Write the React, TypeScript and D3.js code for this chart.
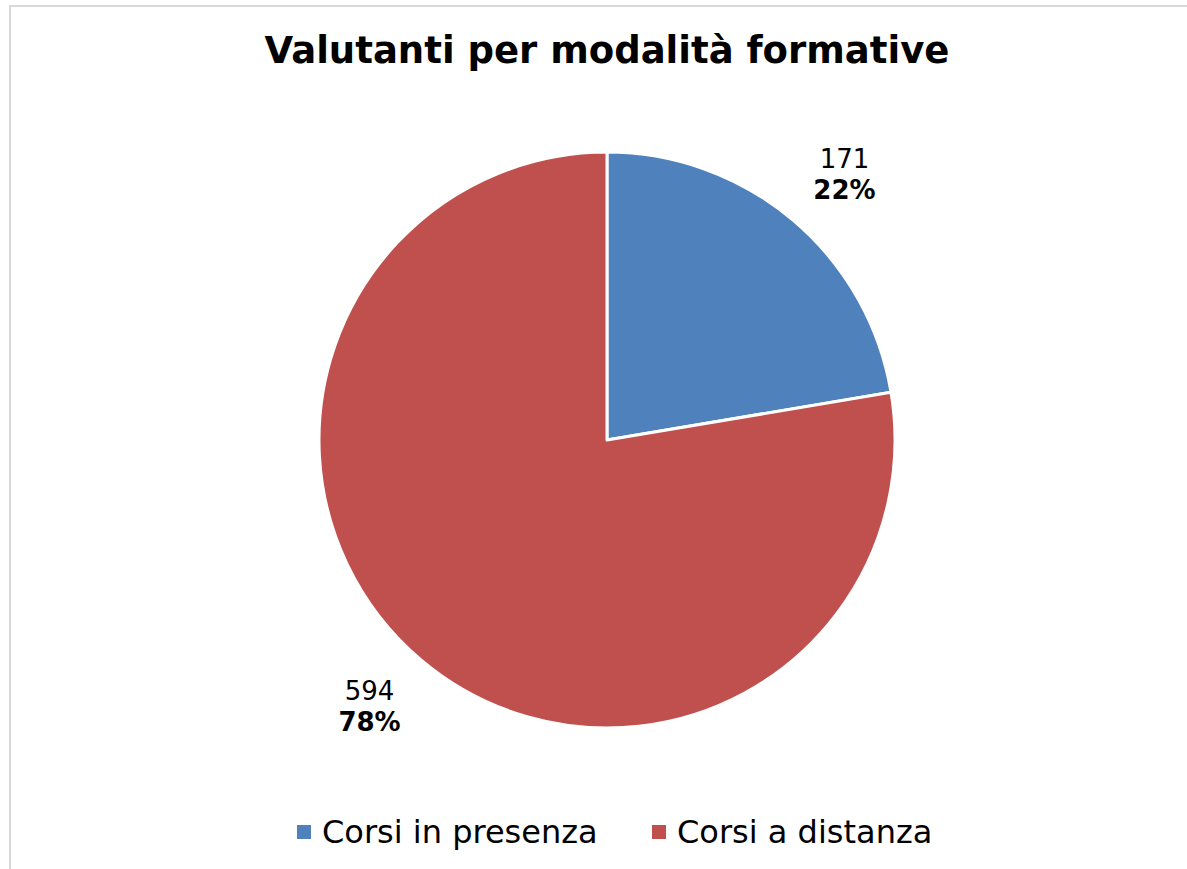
import { useRef, useEffect } from "react";
import * as d3 from "d3";

const title = "Valutanti per modalità formative";
const categories = ["Corsi in presenza", "Corsi a distanza"];
const values = [171, 594];
const colors = ["#4F81BD", "#C0504D"];

const width = 1187;
const height = 869;
const font = "DejaVu Sans, Verdana, sans-serif";

type Slice = { label: string; value: number; color: string };

export default function App() {
  const ref = useRef<SVGSVGElement>(null);

  useEffect(() => {
    if (!ref.current) return;
    const svg = d3.select(ref.current);
    svg.selectAll("*").remove();

    const data: Slice[] = categories.map((c, i) => ({
      label: c,
      value: values[i],
      color: colors[i],
    }));
    const total = d3.sum(values);

    // Chart frame
    svg
      .append("rect")
      .attr("x", 10)
      .attr("y", 6)
      .attr("width", width + 20)
      .attr("height", height + 20)
      .attr("fill", "#fff")
      .attr("stroke", "#d9d9d9")
      .attr("stroke-width", 2);

    // Title
    svg
      .append("text")
      .attr("x", 607)
      .attr("y", 63)
      .attr("text-anchor", "middle")
      .attr("font-family", font)
      .attr("font-weight", "bold")
      .attr("font-size", 37)
      .text(title);

    const cx = 607;
    const cy = 440;
    const radius = 288;

    const pie = d3
      .pie<Slice>()
      .value((d) => d.value)
      .sort(null);
    const arcs = pie(data);

    const arc = d3.arc<d3.PieArcDatum<Slice>>().innerRadius(0).outerRadius(radius);
    // anchor point just outside the slice; the label box hangs off it
    const anchorArc = d3
      .arc<d3.PieArcDatum<Slice>>()
      .innerRadius(315)
      .outerRadius(315);
    const boxW = 34;
    const boxH = 26;

    const g = svg.append("g").attr("transform", `translate(${cx}, ${cy})`);

    g.selectAll("path")
      .data(arcs)
      .join("path")
      .attr("d", arc)
      .attr("fill", (d) => d.data.color)
      .attr("stroke", "#fff")
      .attr("stroke-width", 3)
      .attr("stroke-linejoin", "round");

    // Data labels: value + percentage
    const labels = g
      .selectAll("g.label")
      .data(arcs)
      .join("g")
      .attr("class", "label")
      .attr("transform", (d) => {
        const [x, y] = anchorArc.centroid(d);
        const lx = x + Math.sign(x) * boxW;
        const ly = y + Math.sign(y) * boxH;
        return `translate(${lx}, ${ly})`;
      });

    labels
      .append("text")
      .attr("y", -6)
      .attr("text-anchor", "middle")
      .attr("font-family", font)
      .attr("font-size", 26)
      .text((d) => d.data.value);

    labels
      .append("text")
      .attr("y", 25)
      .attr("text-anchor", "middle")
      .attr("font-family", font)
      .attr("font-weight", "bold")
      .attr("font-size", 26)
      .text((d) => `${Math.round((d.data.value / total) * 100)}%`);

    // Legend
    const legendX = [297, 652];
    const legend = svg
      .append("g")
      .selectAll("g")
      .data(data)
      .join("g")
      .attr("transform", (_d, i) => `translate(${legendX[i]}, 825)`);

    legend
      .append("rect")
      .attr("width", 14)
      .attr("height", 14)
      .attr("fill", (d) => d.color);

    legend
      .append("text")
      .attr("x", 25)
      .attr("y", 18)
      .attr("font-family", font)
      .attr("font-size", 32)
      .text((d) => d.label);
  }, []);

  return (
    <svg
      ref={ref}
      width={width}
      height={height}
      style={{ position: "absolute", left: 0, top: 0 }}
    />
  );
}
